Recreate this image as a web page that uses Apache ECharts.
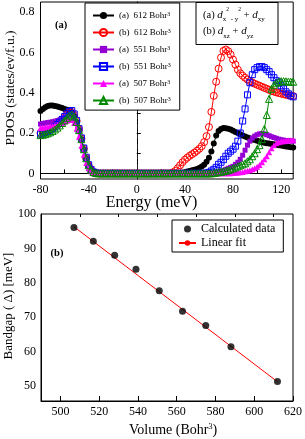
<!DOCTYPE html>
<html><head><meta charset="utf-8">
<script src="https://cdn.jsdelivr.net/npm/echarts@6/dist/echarts.min.js"></script>
<style>html,body{margin:0;padding:0;background:#fff}#c{width:305px;height:439px}</style>
</head><body><div id="c"></div>
<script>
// ---------- Panel (a): PDOS ----------
const energy = [
-80,-78,-76,-74,-72,-70,-68,-66,-64,-62,
-60,-58,-56,-54,-52,-50,-48,-46,-44,-42,
-40,-38,-36,-34,-32,-30,-28,-26,-24,-22,
-20,-18,-16,-14,-12,-10,-8,-6,-4,-2,
0,2,4,6,8,10,12,14,16,18,
20,22,24,26,28,30,32,34,36,38,
40,42,44,46,48,50,52,54,56,58,
60,62,64,66,68,70,72,74,76,78,
80,82,84,86,88,90,92,94,96,98,
100,102,104,106,108,110,112,114,116,118,
120,122,124,126,128,130];

const pdosA612 = [
0.31,0.32,0.328,0.334,0.337,0.337,0.335,0.332,0.328,0.324,
0.32,0.316,0.31,0.302,0.285,0.255,0.215,0.17,0.12,0.075,
0.04,0.018,0.006,0.002,0,0,0,0,0,0,
0,0,0,0,0,0,0,0,0,0,
0,0,0,0,0,0,0,0,0,0,
0,0,0,0,0,0,0,0,0.001,0.003,
0.006,0.009,0.012,0.015,0.018,0.022,0.027,0.034,0.043,0.058,
0.078,0.108,0.148,0.188,0.21,0.22,0.225,0.224,0.222,0.218,
0.212,0.206,0.2,0.194,0.188,0.183,0.178,0.174,0.17,0.166,
0.162,0.158,0.155,0.152,0.15,0.148,0.146,0.144,0.142,0.14,
0.138,0.136,0.134,0.132,0.13,0.128];

const pdosB612 = [
0.2,0.203,0.207,0.212,0.218,0.225,0.235,0.245,0.256,0.268,
0.28,0.292,0.302,0.305,0.29,0.26,0.218,0.172,0.122,0.076,
0.04,0.018,0.006,0.002,0,0,0,0,0,0,
0,0,0,0,0,0,0,0,0,0,
0,0,0,0,0,0,0,0,0,0,
0,0,0,0,0,0.005,0.012,0.025,0.04,0.055,
0.068,0.078,0.087,0.095,0.103,0.112,0.122,0.135,0.155,0.185,
0.23,0.305,0.385,0.455,0.52,0.575,0.608,0.615,0.607,0.59,
0.565,0.54,0.515,0.497,0.485,0.475,0.466,0.458,0.451,0.445,
0.44,0.435,0.43,0.425,0.42,0.415,0.41,0.406,0.402,0.399,
0.396,0.393,0.39,0.388,0.386,0.384];

const pdosA551 = [
0.245,0.248,0.25,0.252,0.254,0.256,0.259,0.262,0.266,0.271,
0.277,0.283,0.289,0.29,0.278,0.25,0.21,0.165,0.117,0.072,
0.038,0.016,0.005,0.001,0,0,0,0,0,0,
0,0,0,0,0,0,0,0,0,0,
0,0,0,0,0,0,0,0,0,0,
0,0,0,0,0,0,0,0,0,0,
0,0,0,0,0,0,0,0,0,0,
0.002,0.003,0.005,0.007,0.01,0.012,0.015,0.02,0.025,0.03,
0.035,0.045,0.055,0.07,0.09,0.115,0.14,0.16,0.175,0.185,
0.192,0.196,0.197,0.196,0.192,0.187,0.182,0.178,0.174,0.17,
0.167,0.165,0.163,0.162,0.161,0.16];

const pdosB551 = [
0.195,0.2,0.204,0.209,0.215,0.222,0.232,0.243,0.255,0.268,
0.282,0.296,0.308,0.312,0.295,0.263,0.222,0.176,0.126,0.08,
0.043,0.02,0.007,0.002,0,0,0,0,0,0,
0,0,0,0,0,0,0,0,0,0,
0,0,0,0,0,0,0,0,0,0,
0,0,0,0,0,0,0,0,0,0,
0,0,0,0,0,0,0,0,0,0.002,
0.005,0.012,0.02,0.03,0.045,0.055,0.068,0.085,0.1,0.11,
0.12,0.135,0.16,0.2,0.26,0.32,0.39,0.45,0.49,0.515,
0.525,0.53,0.53,0.525,0.515,0.505,0.49,0.475,0.46,0.45,
0.435,0.42,0.405,0.395,0.385,0.38];

const pdosA507 = [
0.225,0.227,0.229,0.231,0.233,0.235,0.238,0.241,0.245,0.25,
0.256,0.262,0.266,0.265,0.25,0.222,0.182,0.137,0.092,0.052,
0.025,0.01,0.003,0.001,0,0,0,0,0,0,
0,0,0,0,0,0,0,0,0,0,
0,0,0,0,0,0,0,0,0,0,
0,0,0,0,0,0,0,0,0,0,
0,0,0,0,0,0,0,0,0,0,
0,0,0,0,0,0,0,0,0,0,
0.002,0.003,0.004,0.005,0.007,0.01,0.013,0.016,0.02,0.026,
0.033,0.042,0.055,0.07,0.085,0.105,0.125,0.14,0.15,0.155,
0.158,0.16,0.162,0.164,0.165,0.166];

const pdosB507 = [
0.19,0.192,0.195,0.199,0.204,0.21,0.218,0.227,0.238,0.25,
0.263,0.276,0.287,0.292,0.282,0.255,0.215,0.17,0.12,0.075,
0.04,0.018,0.006,0.002,0,0,0,0,0,0,
0,0,0,0,0,0,0,0,0,0,
0,0,0,0,0,0,0,0,0,0,
0,0,0,0,0,0,0,0,0,0,
0,0,0,0,0,0,0,0,0,0,
0,0,0.002,0.004,0.006,0.008,0.01,0.013,0.016,0.02,
0.025,0.03,0.035,0.04,0.045,0.05,0.06,0.07,0.085,0.1,
0.12,0.14,0.17,0.22,0.29,0.37,0.42,0.44,0.45,0.455,
0.458,0.458,0.457,0.456,0.455,0.455];

const pdosNames = ['(a)  612','(b)  612','(a)  551','(b)  551','(a)  507','(b)  507'];
const pdosXTicks = [-80,-60,-40,-20,0,20,40,60,80,100,120];
const pdosXLabels = [-80,-40,0,40,80,120];
const pdosYTicks = [0,0.1,0.2,0.3,0.4,0.5,0.6,0.7,0.8];
const pdosYLabels = [0,0.2,0.4,0.6,0.8];

// ---------- Panel (b): bandgap vs volume ----------
const volume = [507,517,528,539,551,563,575,588,612];
const bandgap = [96.1,92.1,88.0,83.9,77.7,71.7,67.6,61.4,51.3];
const fitVolume = [507,612];
const fitGap = [96.3,51.2];
const volXLabels = [500,520,540,560,580,600,620];
const volXMinor = [510,530,550,570,590,610];
const gapYLabels = [50,60,70,80,90,100];

const FONT = 'Liberation Serif';
const pdosSeriesData = [pdosA612,pdosB612,pdosA551,pdosB551,pdosA507,pdosB507];
const styles = [
  {color:'#000000', symbol:'circle', size:6, hollow:false},
  {color:'#ff0000', symbol:'circle', size:7, hollow:true},
  {color:'#9400d3', symbol:'rect', size:5, hollow:false},
  {color:'#0000ff', symbol:'rect', size:6, hollow:true},
  {color:'#ff00ff', symbol:'triangle', size:6, hollow:false},
  {color:'#008800', symbol:'triangle', size:7, hollow:true}
];

const series = pdosSeriesData.map((vals, k) => {
  const st = styles[k];
  const s = {
    type:'line', name: pdosNames[k], xAxisIndex:0, yAxisIndex:0,
    data: energy.map((e,i)=>[e, vals[i]]),
    symbol: st.symbol, symbolSize: st.size, showSymbol:true,
    lineStyle:{color:st.color, width:1},
    itemStyle: st.hollow ? {color:'rgba(255,255,255,0)', borderColor:st.color, borderWidth:1}
                         : {color:st.color},
    emphasis:{disabled:true}, animation:false, z: 2+k
  };
  if (k===0) {
    s.markLine = {silent:true, symbol:'none', label:{show:false}, animation:false,
      lineStyle:{color:'#222', type:[5,2,1,2], width:1}, data:[{xAxis:0}]};
  }
  return s;
});

series.push({
  type:'scatter', name:'Calculated data', xAxisIndex:2, yAxisIndex:1,
  data: volume.map((v,i)=>[v, bandgap[i]]), symbol:'circle', symbolSize:7,
  itemStyle:{color:'#000'}, z:5, animation:false
});
series.push({
  type:'line', name:'Linear fit', xAxisIndex:2, yAxisIndex:1,
  data: fitVolume.map((v,i)=>[v, fitGap[i]]), symbol:'none',
  lineStyle:{color:'#ff0000', width:1}, itemStyle:{color:'#ff0000'}, z:4, animation:false
});

const lbl = {fontFamily:FONT, fontSize:12, color:'#000'};
const axLine = {show:true, lineStyle:{color:'#000', width:1}};

const option = {
  backgroundColor:'#fff',
  animation:false,
  textStyle:{fontFamily:FONT},
  grid:[
    {left:40.5, top:2, width:252.7, height:177, show:true, borderColor:'#000', borderWidth:1, backgroundColor:'transparent'},
    {left:41, top:214, width:254, height:187, show:true, borderColor:'#000', borderWidth:1, backgroundColor:'transparent'}
  ],
  xAxis:[
    {type:'value', gridIndex:0, min:-80, max:130, axisLine:axLine, splitLine:{show:false},
     axisTick:{show:true, inside:true, length:4, customValues:pdosXTicks, lineStyle:{color:'#000'}},
     axisLabel:{...lbl, margin:5, customValues:pdosXLabels}},
    {type:'value', gridIndex:1, min:490, max:620, axisLine:axLine, splitLine:{show:false},
     axisTick:{show:true, inside:true, length:5, customValues:volXLabels, lineStyle:{color:'#000'}},
     axisLabel:{...lbl, margin:5, customValues:volXLabels}},
    {type:'value', gridIndex:1, min:490, max:620, axisLine:{show:false}, splitLine:{show:false},
     axisTick:{show:true, inside:true, length:3, customValues:volXMinor, lineStyle:{color:'#000'}},
     axisLabel:{show:false}}
  ],
  yAxis:[
    {type:'value', gridIndex:0, min:-0.028, max:0.851, axisLine:axLine, splitLine:{show:false},
     axisTick:{show:true, inside:true, length:4, customValues:pdosYTicks, lineStyle:{color:'#000'}},
     axisLabel:{...lbl, margin:6, customValues:pdosYLabels, formatter:v=>String(v)}},
    {type:'value', gridIndex:1, min:45.6, max:100, axisLine:axLine, splitLine:{show:false},
     axisTick:{show:false},
     axisLabel:{...lbl, margin:5, customValues:gapYLabels}}
  ],
  legend:[
    {data:pdosNames, orient:'vertical', left:85, top:3, itemWidth:21, itemHeight:9, itemGap:7.9,
     padding:[8,9,5,7], backgroundColor:'#fff', borderColor:'#000', borderWidth:1, z:10,
     selectedMode:false,
     textStyle:{fontFamily:FONT, fontSize:9, color:'#000',
       rich:{sup:{fontFamily:FONT, fontSize:6, verticalAlign:'top', color:'#000'}}},
     formatter: n => n + ' Bohr{sup|3}'},
    {data:['Calculated data','Linear fit'], orient:'vertical', left:172, top:220, itemWidth:17, itemHeight:7, itemGap:2,
     padding:[3,8,3,6], backgroundColor:'#fff', borderColor:'#000', borderWidth:1, z:10, selectedMode:false,
     textStyle:{fontFamily:FONT, fontSize:12, color:'#000'}}
  ],
  graphic:[
    {type:'rect', z:20, shape:{x:196, y:2.5, width:82, height:42}, style:{fill:'#fff', stroke:'#000', lineWidth:1}},
    {type:'text', z:21, left:203, top:7, style:{
      text:'{n|(a) }{i|d}{sb|x}{sp|2}{sb| - y}{sp|2}{n| + }{i|d}{sb|xy}',
      rich:{
        n:{fontFamily:FONT, fontSize:10.5, lineHeight:16, color:'#000'},
        i:{fontFamily:FONT, fontSize:11, fontStyle:'italic', lineHeight:16, color:'#000'},
        sb:{fontFamily:FONT, fontSize:7, verticalAlign:'bottom', color:'#000'},
        sp:{fontFamily:FONT, fontSize:5.5, verticalAlign:'top', color:'#000'}
      }}},
    {type:'text', z:21, left:203, top:26, style:{
      text:'{n|(b) }{i|d}{sb|xz}{n| + }{i|d}{sb|yz}',
      rich:{
        n:{fontFamily:FONT, fontSize:10.5, lineHeight:16, color:'#000'},
        i:{fontFamily:FONT, fontSize:11, fontStyle:'italic', lineHeight:16, color:'#000'},
        sb:{fontFamily:FONT, fontSize:7, verticalAlign:'bottom', color:'#000'}
      }}},
    {type:'text', z:21, x:61, y:25, style:{text:'(a)', fontFamily:FONT, fontSize:10.5, fontWeight:'bold', fill:'#000', align:'center', verticalAlign:'middle'}},
    {type:'text', z:21, x:57, y:253, style:{text:'(b)', fontFamily:FONT, fontSize:10.5, fontWeight:'bold', fill:'#000', align:'center', verticalAlign:'middle'}},
    {type:'text', z:21, x:151.5, y:203, style:{text:'Energy (meV)', fontFamily:FONT, fontSize:16, fill:'#000', align:'center', verticalAlign:'middle'}},
    {type:'text', z:21, x:10, y:88, rotation:Math.PI/2, style:{text:'PDOS (states/ev/f.u.)', fontFamily:FONT, fontSize:13.5, fill:'#000', align:'center', verticalAlign:'middle'}},
    {type:'text', z:21, x:9, y:306, rotation:Math.PI/2, style:{text:'Bandgap ( \u0394) [meV]', fontFamily:FONT, fontSize:13, fill:'#000', align:'center', verticalAlign:'middle'}},
    {type:'text', z:21, x:173, y:430, style:{
      text:'{n|Volume (Bohr}{sp|3}{n|)}', align:'center', verticalAlign:'middle',
      rich:{n:{fontFamily:FONT, fontSize:14, color:'#000'}, sp:{fontFamily:FONT, fontSize:8, verticalAlign:'top', color:'#000'}}}}
  ],
  series: series
};

const chart = echarts.init(document.getElementById('c'), null, {renderer:'canvas'});
chart.setOption(option);
</script>
</body></html>
